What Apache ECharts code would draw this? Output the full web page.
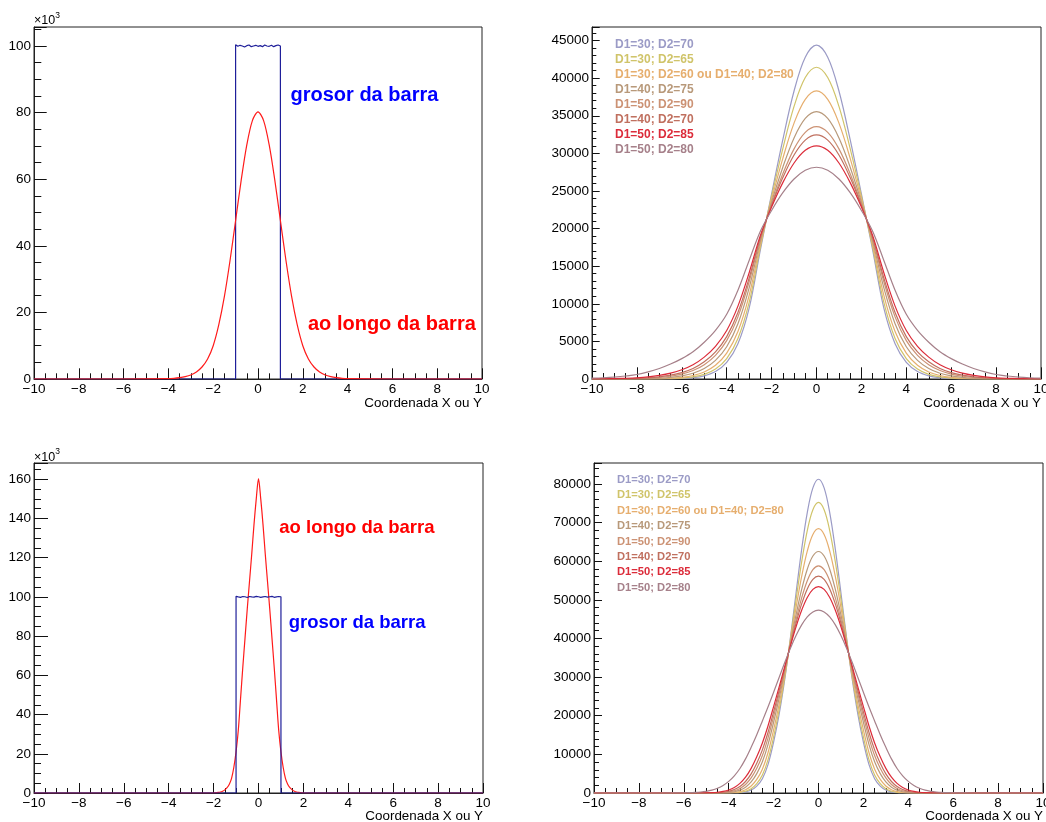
<!DOCTYPE html>
<html>
<head>
<meta charset="utf-8">
<script src="https://cdn.jsdelivr.net/npm/echarts@6.0.0/dist/echarts.min.js"></script>
<style>html,body{margin:0;padding:0;background:#fff}#c{width:1046px;height:822px}</style>
</head>
<body>
<div id="c"></div>
<script>
// ---------------- DATA ----------------
// Left panels: "grosor da barra" (blue, flat top between -1 and 1) and "ao longo da barra" (red), values in units of 10^3
const barX  = [-10,-1,-1,-0.9,-0.8,-0.7,-0.6,-0.5,-0.4,-0.3,-0.2,-0.1,0,0.1,0.2,0.3,0.4,0.5,0.6,0.7,0.8,0.9,1,1,10];
const barTL = [0,0,100.4,99.9,100.2,100.0,99.7,100.1,100.3,99.8,100.0,100.2,99.9,100.1,99.8,100.3,100.0,99.9,100.2,99.8,100.1,100.3,100.0,0,0];
const barBL = [0,0,100.3,100.0,99.8,100.2,100.1,99.7,100.2,100.0,99.9,100.3,100.1,99.8,100.0,100.2,99.9,100.1,100.3,99.8,100.0,100.2,100.1,0,0];

const redTLx = [-10,-6,-4,-3.75,-3.5,-3.25,-3,-2.75,-2.5,-2.25,-2,-1.75,-1.5,-1.25,-1,-0.75,-0.5,-0.25,0,0.25,0.5,0.75,1,1.25,1.5,1.75,2,2.25,2.5,2.75,3,3.25,3.5,3.75,4,6,10];
const redTL  = [0,0,0.1,0.2,0.4,0.7,1.2,2.1,3.6,6.0,10.0,16.3,24.8,35.5,47.6,59.7,70.3,77.6,80.2,77.6,70.3,59.7,47.6,35.5,24.8,16.3,10.0,6.0,3.6,2.1,1.2,0.7,0.4,0.2,0.1,0,0];

const redBLx = [-10,-4,-2,-1.9,-1.8,-1.7,-1.6,-1.5,-1.4,-1.3,-1.2,-1.1,-1,-0.9,-0.8,-0.7,-0.6,-0.5,-0.4,-0.3,-0.2,-0.1,0,0.1,0.2,0.3,0.4,0.5,0.6,0.7,0.8,0.9,1,1.1,1.2,1.3,1.4,1.5,1.6,1.7,1.8,1.9,2,4,10];
const redBL  = [0,0,0.05,0.15,0.3,0.5,0.9,1.6,2.7,4.5,7.5,13,21,32,48,64,79,94,108,122,137,150,160.3,150,137,122,108,94,79,64,48,32,21,13,7.5,4.5,2.7,1.6,0.9,0.5,0.3,0.15,0.05,0,0];

// Right panels: eight configurations
const seriesNames = ['D1=30; D2=70','D1=30; D2=65','D1=30; D2=60 ou D1=40; D2=80','D1=40; D2=75','D1=50; D2=90','D1=40; D2=70','D1=50; D2=85','D1=50; D2=80'];

const xTR = [-10,-9.5,-9,-8.5,-8,-7.5,-7,-6.5,-6,-5.5,-5,-4.5,-4,-3.5,-3,-2.5,-2,-1.5,-1,-0.5,0,0.5,1,1.5,2,2.5,3,3.5,4,4.5,5,5.5,6,6.5,7,7.5,8,8.5,9,9.5,10];
const tr1 = [0,0,0,0,1,3,9,25,67,173,425,990,2210,4680,9420,17170,24610,31830,38290,42790,44400,42790,38290,31830,24610,17170,9420,4680,2210,990,425,173,67,25,9,3,1,0,0,0,0];
const tr2 = [0,0,0,1,3,7,19,48,117,274,614,1318,2715,5380,10180,17520,24270,30640,36240,40080,41450,40080,36240,30640,24270,17520,10180,5380,2715,1318,614,274,117,48,19,7,3,1,0,0,0];
const tr3 = [0,1,2,4,8,19,46,102,222,463,937,1823,3432,6310,11130,17930,23870,29340,34020,37180,38300,37180,34020,29340,23870,17930,11130,6310,3432,1823,937,463,222,102,46,19,8,4,2,1,0];
const tr4 = [1,3,6,12,24,50,106,210,407,763,1400,2478,4290,7350,12115,18340,23520,28160,32050,34640,35550,34640,32050,28160,23520,18340,12115,7350,4290,2478,1400,763,407,210,106,50,24,12,6,3,1];
const tr5 = [4,7,15,28,53,103,201,367,651,1123,1910,3147,5100,8260,12930,18650,23230,27280,30600,32790,33550,32790,30600,27280,23230,18650,12930,8260,5100,3147,1910,1123,651,367,201,103,53,28,15,7,4];
const tr6 = [7,13,25,47,84,156,290,505,854,1402,2281,3605,5630,8840,13425,18830,23075,26780,29790,31760,32450,31760,29790,26780,23075,18830,13425,8840,5630,3605,2281,1402,854,505,290,156,84,47,25,13,7];
const tr7 = [17,30,53,93,158,278,481,783,1237,1900,2911,4350,6450,9690,14130,19090,22860,26110,28720,30410,31000,30410,28720,26110,22860,19090,14130,9690,6450,4350,2911,1900,1237,783,481,278,158,93,53,30,17];
const tr8 = [104,163,256,401,600,940,1402,1990,2711,3623,4892,6470,8605,11795,15760,19640,22410,24770,26590,27750,28150,27750,26590,24770,22410,19640,15760,11795,8605,6470,4892,3623,2711,1990,1402,940,600,401,256,163,104];

const xBR = [-10,-9,-8,-7,-6,-5.75,-5.5,-5.25,-5,-4.75,-4.5,-4.25,-4,-3.75,-3.5,-3.25,-3,-2.75,-2.5,-2.25,-2,-1.75,-1.5,-1.25,-1,-0.75,-0.5,-0.25,0,0.25,0.5,0.75,1,1.25,1.5,1.75,2,2.25,2.5,2.75,3,3.25,3.5,3.75,4,4.25,4.5,4.75,5,5.25,5.5,5.75,6,7,8,9,10];
const br1 = [0,0,0,0,0,0,0,0,0,0,0,2,8,29,96,285,754,1782,3680,7330,13150,20470,29500,40190,51770,63040,72560,78950,81200,78950,72560,63040,51770,40190,29500,20470,13150,7330,3680,1782,754,285,96,29,8,2,0,0,0,0,0,0,0,0,0,0,0];
const br2 = [0,0,0,0,0,0,0,0,0,0,2,5,18,59,174,465,1114,2413,4632,8580,14500,21610,30080,39800,50040,59810,67920,73310,75200,73310,67920,59810,50040,39800,30080,21610,14500,8580,4632,2413,1114,465,174,59,18,5,2,0,0,0,0,0,0,0,0,0,0];
const br3 = [0,0,0,0,0,0,0,0,0,1,5,16,51,142,363,846,1804,3508,6150,10420,16330,23090,30800,39310,47980,56030,62590,66900,68400,66900,62590,56030,47980,39310,30800,23090,16330,10420,6150,3508,1804,846,363,142,51,16,5,1,0,0,0,0,0,0,0,0,0];
const br4 = [0,0,0,0,0,0,0,0,2,6,18,52,137,330,731,1500,2856,5010,8070,12540,18310,24610,31520,38850,46100,52670,57920,61320,62500,61320,57920,52670,46100,38850,31520,24610,18310,12540,8070,5010,2856,1500,731,330,137,52,18,6,2,0,0,0,0,0,0,0,0];
const br5 = [0,0,0,0,0,0,1,2,6,17,46,116,270,584,1172,2213,3898,6380,9690,14220,19790,25700,32000,38550,44880,50510,54950,57810,58800,57810,54950,50510,44880,38550,32000,25700,19790,14220,9690,6380,3898,2213,1172,584,270,116,46,17,6,2,1,0,0,0,0,0,0];
const br6 = [0,0,0,0,0,0,2,5,14,38,93,212,453,901,1682,2975,4940,7670,11150,15650,20990,26560,32390,38330,43980,48930,52820,55300,56150,55300,52820,48930,43980,38330,32390,26560,20990,15650,11150,7670,4940,2975,1682,901,453,212,93,38,14,5,2,0,0,0,0,0,0];
const br7 = [0,0,0,0,1,2,6,16,39,91,199,408,789,1440,2484,4090,6380,9360,12960,17350,22370,27520,32810,38080,43010,47280,50590,52680,53400,52680,50590,47280,43010,38080,32810,27520,22370,17350,12960,9360,6380,4090,2484,1440,789,408,199,91,39,16,6,2,1,0,0,0,0];
const br8 = [0,0,0,2,35,72,138,252,441,745,1235,1969,3018,4454,6345,8830,11830,15100,18640,22250,26060,29970,33820,37480,40750,43500,45570,46860,47300,46860,45570,43500,40750,37480,33820,29970,26060,22250,18640,15100,11830,8830,6345,4454,3018,1969,1235,745,441,252,138,72,35,2,0,0,0];

const trSeries = [tr1,tr2,tr3,tr4,tr5,tr6,tr7,tr8];
const brSeries = [br1,br2,br3,br4,br5,br6,br7,br8];

// ---------------- STYLE ----------------
const FONT = '"Liberation Sans", Arial, Helvetica, sans-serif';
const seriesColors = ['#9b9bc6','#d0c46a','#e6ae6e','#b8997a','#cc9274','#c0705f','#dc2c3a','#a6808a'];
const BLUE_HIST = '#1f1f9a';
const RED_HIST = '#ff1a1a';

const panels = [
  {grid:{left:34, top:27, width:448, height:352},  yMax:105.7, yMaj:20,    yMin:5,    yMajLen:12.7, yMinLen:7.3, xMajLen:10.7, xMinLen:5.7},
  {grid:{left:592,top:27, width:449, height:352},  yMax:46800, yMaj:5000,  yMin:1000, yMajLen:7.7,  yMinLen:4.3, xMajLen:11.7, xMinLen:6},
  {grid:{left:34, top:463,width:449, height:330},  yMax:168.3, yMaj:20,    yMin:5,    yMajLen:14,   yMinLen:7,   xMajLen:10,   xMinLen:5},
  {grid:{left:594,top:463,width:449, height:330},  yMax:85400, yMaj:10000, yMin:2000, yMajLen:8,    yMinLen:5,   xMajLen:10,   xMinLen:5}
];

const grids = [], xAxes = [], yAxes = [];
panels.forEach((p, gi) => {
  grids.push(Object.assign({show:true, borderColor:'#222', borderWidth:1, backgroundColor:'transparent', containLabel:false, outerBoundsMode:'none'}, p.grid));
  const tickStyle = {color:'#111', width:1};
  xAxes.push({gridIndex:gi, type:'value', min:-10, max:10, interval:2, position:'bottom',
    axisLine:{show:true, onZero:false, lineStyle:{color:'#222', width:1}},
    axisTick:{show:true, inside:true, length:p.xMajLen, lineStyle:tickStyle},
    axisLabel:{show:true, margin:3, fontSize:13.5, color:'#000', fontFamily:FONT,
      formatter: v => v < 0 ? '\u2212' + (-v) : String(v)},
    splitLine:{show:false}});
  xAxes.push({gridIndex:gi, type:'value', min:-10, max:10, interval:0.5, position:'bottom',
    axisLine:{show:false, onZero:false}, axisTick:{show:true, inside:true, length:p.xMinLen, lineStyle:tickStyle},
    axisLabel:{show:false}, splitLine:{show:false}});
  yAxes.push({gridIndex:gi, type:'value', min:0, max:p.yMax, interval:p.yMaj, position:'left',
    axisLine:{show:true, onZero:false, lineStyle:{color:'#222', width:1}},
    axisTick:{show:true, inside:true, length:p.yMajLen, lineStyle:tickStyle},
    axisLabel:{show:true, margin:3, fontSize:13.5, color:'#000', fontFamily:FONT,
      formatter: v => (Math.abs(v / p.yMaj - Math.round(v / p.yMaj)) < 1e-6) ? String(v) : ''},
    splitLine:{show:false}});
  yAxes.push({gridIndex:gi, type:'value', min:0, max:p.yMax, interval:p.yMin, position:'left',
    axisLine:{show:false, onZero:false}, axisTick:{show:true, inside:true, length:p.yMinLen, lineStyle:tickStyle},
    axisLabel:{show:false}, splitLine:{show:false}});
});

function pairs(xs, ys) { return xs.map((x, i) => [x, ys[i]]); }
function lineSeries(name, gi, xs, ys, color, smooth, width) {
  return {name:name, type:'line', xAxisIndex:gi*2, yAxisIndex:gi*2, data:pairs(xs, ys),
    showSymbol:false, symbol:'none', smooth:smooth, silent:true, animation:false,
    lineStyle:{color:color, width:width}, itemStyle:{color:color}, clip:true};
}

const series = [];
series.push(lineSeries('grosor da barra', 0, barX, barTL, BLUE_HIST, false, 1.2));
series.push(lineSeries('ao longo da barra', 0, redTLx, redTL, RED_HIST, 0.3, 1.2));
trSeries.forEach((ys, i) => series.push(lineSeries(seriesNames[i], 1, xTR, ys, seriesColors[i], 0.35, 1.2)));
series.push(lineSeries('ao longo da barra', 2, redBLx, redBL, RED_HIST, 0.3, 1.2));
series.push(lineSeries('grosor da barra', 2, barX, barBL, BLUE_HIST, false, 1.2));
brSeries.forEach((ys, i) => series.push(lineSeries(seriesNames[i], 3, xBR, ys, seriesColors[i], 0.35, 1.2)));

function legendFor(left, top, itemH, fs) {
  return {show:true, orient:'vertical', left:left, top:top, padding:0, itemGap:0,
    itemWidth:0, itemHeight:itemH, icon:'rect', itemStyle:{opacity:0}, selectedMode:false,
    textStyle:{fontSize:fs, fontWeight:'bold', fontFamily:FONT},
    data: seriesNames.map((n, i) => ({name:n, icon:'rect', itemStyle:{opacity:0}, textStyle:{color:seriesColors[i], fontSize:fs, fontWeight:'bold', fontFamily:FONT}}))};
}

function txt(x, y, text, fill, size, weight, align) {
  return {type:'text', x:x, y:y, silent:true, style:{text:text, fill:fill,
    font:(weight || 'normal') + ' ' + size + 'px ' + FONT, textAlign:align || 'left', textVerticalAlign:'middle'}};
}

const graphics = [
  txt(290.5, 95, 'grosor da barra', '#0000ff', 20, 'bold'),
  txt(308, 324, 'ao longo da barra', '#ff0000', 20, 'bold'),
  txt(279.3, 528.3, 'ao longo da barra', '#ff0000', 18.5, 'bold'),
  txt(288.7, 622.7, 'grosor da barra', '#0000ff', 18.5, 'bold'),
  txt(482, 403, 'Coordenada X ou Y', '#000', 13.4, 'normal', 'right'),
  txt(1041, 403, 'Coordenada X ou Y', '#000', 13.4, 'normal', 'right'),
  txt(483, 816.7, 'Coordenada X ou Y', '#000', 13.4, 'normal', 'right'),
  txt(1043, 816.7, 'Coordenada X ou Y', '#000', 13.4, 'normal', 'right'),
  txt(34, 21, '\u00d710', '#000', 12.5),
  txt(55.3, 15.5, '3', '#000', 8.5),
  txt(34, 457.5, '\u00d710', '#000', 12.5),
  txt(55.3, 452, '3', '#000', 8.5)
];

const chart = echarts.init(document.getElementById('c'), null, {renderer:'canvas', width:1046, height:822});
chart.setOption({
  animation:false,
  backgroundColor:'#ffffff',
  grid:grids,
  xAxis:xAxes,
  yAxis:yAxes,
  legend:[legendFor(610, 36.8, 15, 12), legendFor(612, 472.3, 15.4, 11.2)],
  graphic:graphics,
  series:series
});
</script>
</body>
</html>
